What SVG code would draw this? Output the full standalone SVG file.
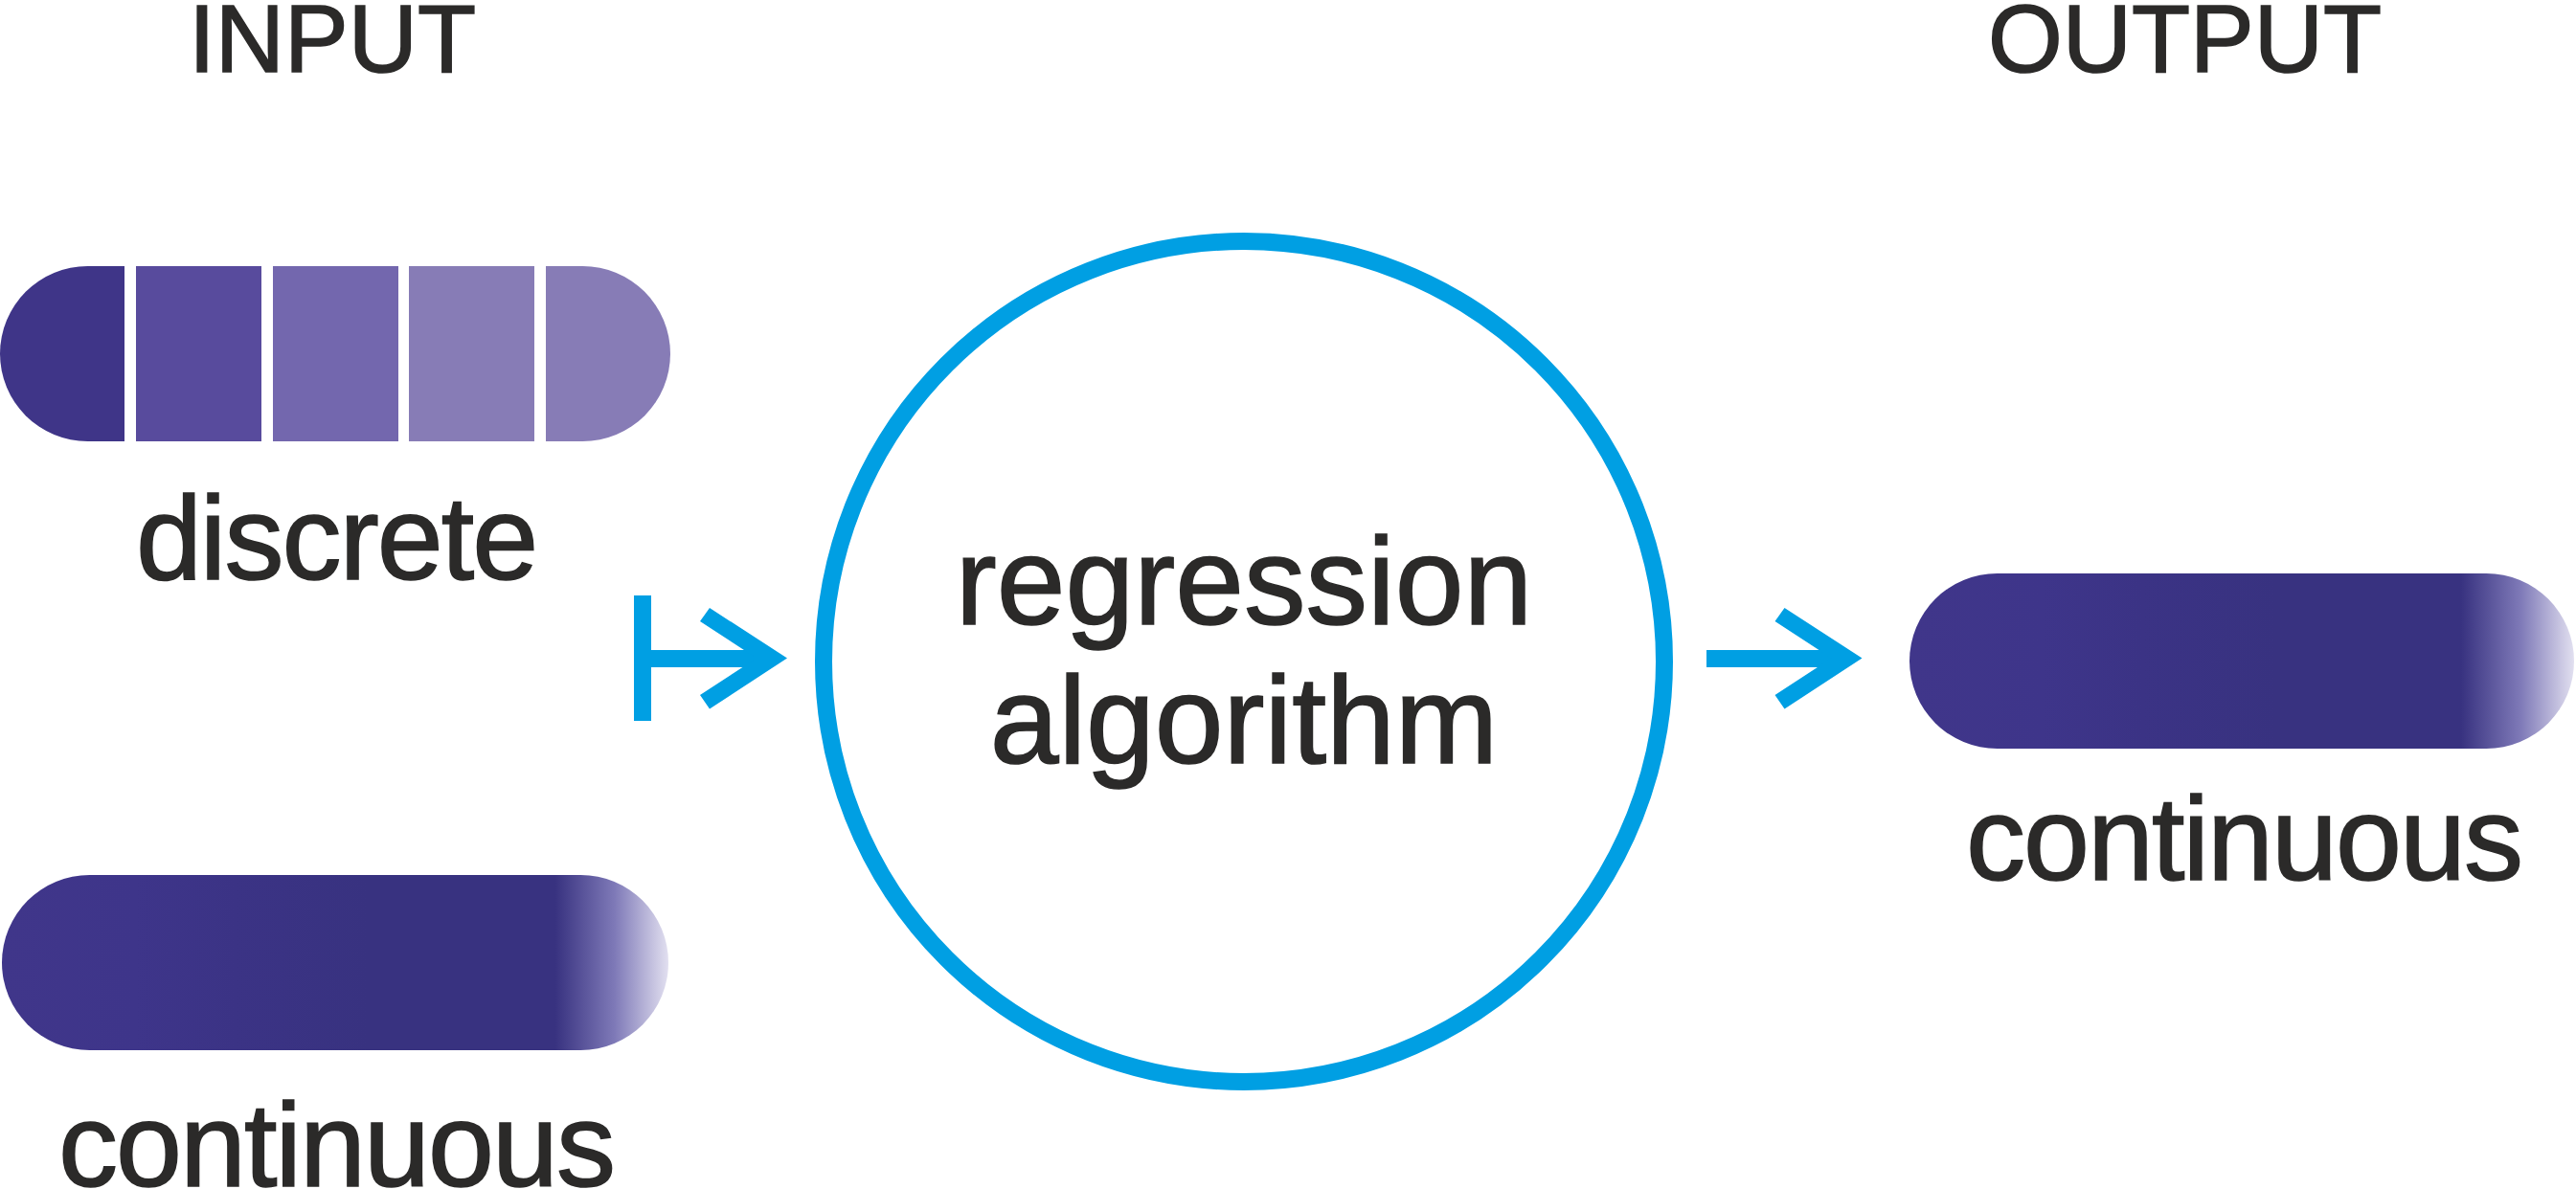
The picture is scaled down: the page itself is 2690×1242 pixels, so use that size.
<svg xmlns="http://www.w3.org/2000/svg" width="2690" height="1242" viewBox="0 0 2690 1242">
  <style>
    .txt { font-family: "Liberation Sans", Arial, sans-serif; fill: #2B2A29; stroke: #2B2A29; stroke-width: 1.6px; }
    .title { font-size: 100px; }
    .label { font-size: 124px; letter-spacing: -2px; text-anchor: middle; }
    .center { font-size: 129px; text-anchor: middle; }
    .conn { fill: #009FE3; }
    .ring { fill: #FFFFFF; stroke: #009FE3; stroke-width: 18; }
    .cont { fill: url(#contGrad); }
  </style>
  <defs>
    <linearGradient id="contGrad" x1="0" y1="0" x2="1" y2="0">
      <stop offset="0" stop-color="#40368A"/>
      <stop offset="0.2" stop-color="#3E358A"/>
      <stop offset="0.35" stop-color="#3B3385"/>
      <stop offset="0.55" stop-color="#383280"/>
      <stop offset="0.83" stop-color="#383280"/>
      <stop offset="0.92" stop-color="#7F7AB8"/>
      <stop offset="1" stop-color="#E2E0F0"/>
    </linearGradient>
    <polygon id="chevron" points="741,635 822,687.5 741,740.5 731,726 790,687.5 731,649"/>
  </defs>

  <rect x="0" y="0" width="2690" height="1242" fill="#FFFFFF"/>

  <g id="title-input">
    <text class="txt title" x="197" y="75">INPUT</text>
  </g>
  <g id="title-output">
    <text class="txt title" x="2076" y="75">OUTPUT</text>
  </g>

  <g id="input-discrete">
    <path d="M91.5,278 H130 V461 H91.5 A91.5,91.5 0 0 1 91.5,278 Z" fill="#3F3588"/>
    <rect x="142" y="278" width="131" height="183" fill="#584B9D"/>
    <rect x="285" y="278" width="131" height="183" fill="#7367AE"/>
    <rect x="427" y="278" width="131" height="183" fill="#877CB6"/>
    <path d="M570,278 H608.5 A91.5,91.5 0 0 1 608.5,461 H570 Z" fill="#877CB6"/>
    <text class="txt label" x="351" y="605">discrete</text>
  </g>

  <g id="input-continuous">
    <rect class="cont" x="2" y="914" width="696" height="183" rx="91.5" ry="91.5"/>
    <text class="txt label" x="351" y="1239">continuous</text>
  </g>

  <g id="regression-algorithm">
    <circle class="ring" cx="1299" cy="691" r="439"/>
    <text class="txt center" x="1299" y="652">regression</text>
    <text class="txt center" x="1299" y="797">algorithm</text>
  </g>

  <g id="output-continuous">
    <rect class="cont" x="1994" y="599" width="694" height="183" rx="91.5" ry="91.5"/>
    <text class="txt label" x="2343" y="919">continuous</text>
  </g>

  <g id="connectors">
    <g id="conn-input">
      <rect class="conn" x="662" y="622" width="18" height="131"/>
      <rect class="conn" x="680" y="679" width="112" height="18"/>
      <use href="#chevron" class="conn"/>
    </g>
    <g id="conn-output">
      <rect class="conn" x="1782" y="679" width="132" height="18"/>
      <use href="#chevron" class="conn" transform="translate(1122.5,0)"/>
    </g>
  </g>
</svg>
